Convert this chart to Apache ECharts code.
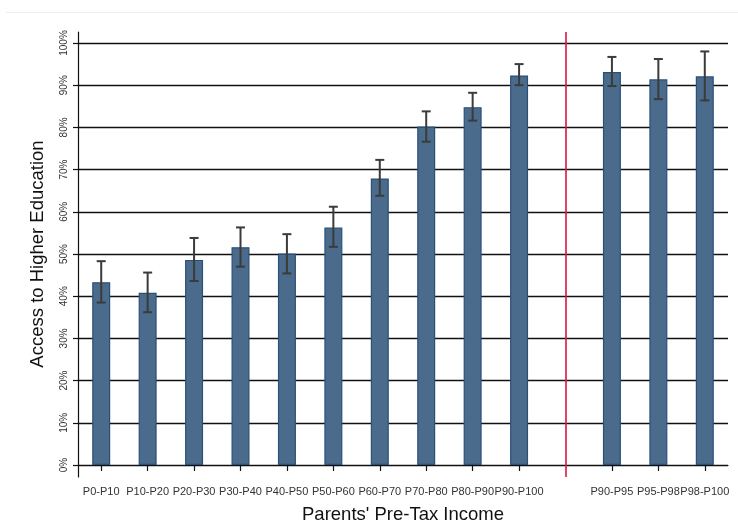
<!DOCTYPE html>
<html>
<head>
<meta charset="utf-8">
<script src="https://cdn.jsdelivr.net/npm/echarts@6/dist/echarts.min.js"></script>
<style>
html,body{margin:0;padding:0;background:#fff;}
#chart{width:738px;height:521px;}
</style>
</head>
<body>
<div id="chart"></div>
<script>
var categories = ['P0-P10','P10-P20','P20-P30','P30-P40','P40-P50','P50-P60','P60-P70','P70-P80','P80-P90','P90-P100','','P90-P95','P95-P98','P98-P100'];
var shares = [43.3, 40.8, 48.6, 51.6, 50.1, 56.3, 67.9, 80.2, 84.8, 92.3, null, 93.1, 91.4, 92.1];
var lowerCI = [38.5, 36.2, 43.6, 47.0, 45.4, 51.7, 63.8, 76.6, 81.6, 90.0, null, 89.8, 86.7, 86.4];
var upperCI = [48.3, 45.6, 53.8, 56.3, 54.7, 61.2, 72.3, 83.8, 88.2, 95.0, null, 96.7, 96.2, 98.0];
var yTicks = [0, 10, 20, 30, 40, 50, 60, 70, 80, 90, 100];
var separatorCategory = '';

var font = '"Liberation Sans", Arial, sans-serif';
var chart = echarts.init(document.getElementById('chart'), null, {renderer: 'canvas'});

var barData = shares.map(function (v) { return v == null ? '-' : v; });
var errData = [];
categories.forEach(function (c, i) {
  if (lowerCI[i] != null) errData.push([i, lowerCI[i], upperCI[i]]);
});

chart.setOption({
  animation: false,
  backgroundColor: '#ffffff',
  graphic: [{
    type: 'line', silent: true,
    shape: {x1: 6, y1: 12.5, x2: 738, y2: 12.5},
    style: {stroke: '#e9eeee', lineWidth: 1}
  }],
  grid: [
    {left: 78, right: 10, top: 43, bottom: 56, containLabel: false, outerBoundsMode: 'none'},
    {left: 78, right: 10, top: 32, bottom: 44, containLabel: false, outerBoundsMode: 'none'}
  ],
  xAxis: [{
    gridIndex: 0,
    type: 'category',
    data: categories,
    offset: 12,
    axisLine: {show: true, lineStyle: {color: '#111', width: 1.2}},
    axisTick: {
      show: true, alignWithLabel: true, length: 6,
      interval: function (i, v) { return v !== separatorCategory; },
      lineStyle: {color: '#111', width: 1.2}
    },
    axisLabel: {
      interval: 0, hideOverlap: false, margin: 9,
      fontFamily: font, fontSize: 11, color: '#333'
    },
    splitLine: {show: false},
    name: "Parents' Pre-Tax Income",
    nameLocation: 'middle',
    nameGap: 28,
    nameTextStyle: {fontFamily: font, fontSize: 18.5, color: '#111', verticalAlign: 'top'}
  }, {
    gridIndex: 1,
    type: 'category',
    data: categories,
    show: true,
    axisLine: {show: false},
    axisTick: {show: false},
    axisLabel: {show: false},
    splitLine: {show: false}
  }],
  yAxis: [{
    gridIndex: 0,
    type: 'value',
    min: yTicks[0],
    max: yTicks[yTicks.length - 1],
    interval: 10,
    axisLine: {show: false},
    axisTick: {show: true, length: 5, lineStyle: {color: '#111', width: 1.2}},
    axisLabel: {
      rotate: 90, margin: 9,
      fontFamily: font, fontSize: 10, color: '#333',
      formatter: function (v) { return v + '%'; }
    },
    splitLine: {show: true, lineStyle: {color: '#111', width: 1.3}},
    name: 'Access to Higher Education',
    nameLocation: 'middle',
    nameRotate: 90,
    nameGap: 31,
    nameTextStyle: {fontFamily: font, fontSize: 18.5, color: '#111'}
  }, {
    gridIndex: 1,
    type: 'value',
    min: 0, max: 1,
    axisLine: {show: true, lineStyle: {color: '#111', width: 1.2}},
    axisTick: {show: false},
    axisLabel: {show: false},
    splitLine: {show: false}
  }],
  series: [{
    type: 'bar',
    xAxisIndex: 0, yAxisIndex: 0,
    data: barData,
    barWidth: 18,
    itemStyle: {color: '#4a6b8c', borderColor: '#2a5078', borderWidth: 1.2},
    silent: true
  }, {
    type: 'custom',
    xAxisIndex: 0, yAxisIndex: 0,
    data: errData,
    silent: true,
    z: 5,
    renderItem: function (params, api) {
      var x = api.value(0);
      var lo = api.coord([x, api.value(1)]);
      var hi = api.coord([x, api.value(2)]);
      var cap = 4.5;
      var st = {stroke: '#3b3b3b', lineWidth: 2};
      return {
        type: 'group',
        children: [
          {type: 'line', shape: {x1: lo[0], y1: lo[1], x2: hi[0], y2: hi[1]}, style: st},
          {type: 'line', shape: {x1: lo[0] - cap, y1: lo[1], x2: lo[0] + cap, y2: lo[1]}, style: st},
          {type: 'line', shape: {x1: hi[0] - cap, y1: hi[1], x2: hi[0] + cap, y2: hi[1]}, style: st}
        ]
      };
    }
  }, {
    type: 'line',
    xAxisIndex: 1, yAxisIndex: 1,
    data: [],
    silent: true,
    markLine: {
      silent: true,
      symbol: ['none', 'none'],
      label: {show: false},
      lineStyle: {color: '#dc1440', width: 1.6, type: 'solid'},
      data: [{xAxis: separatorCategory}]
    }
  }]
});
</script>
</body>
</html>
